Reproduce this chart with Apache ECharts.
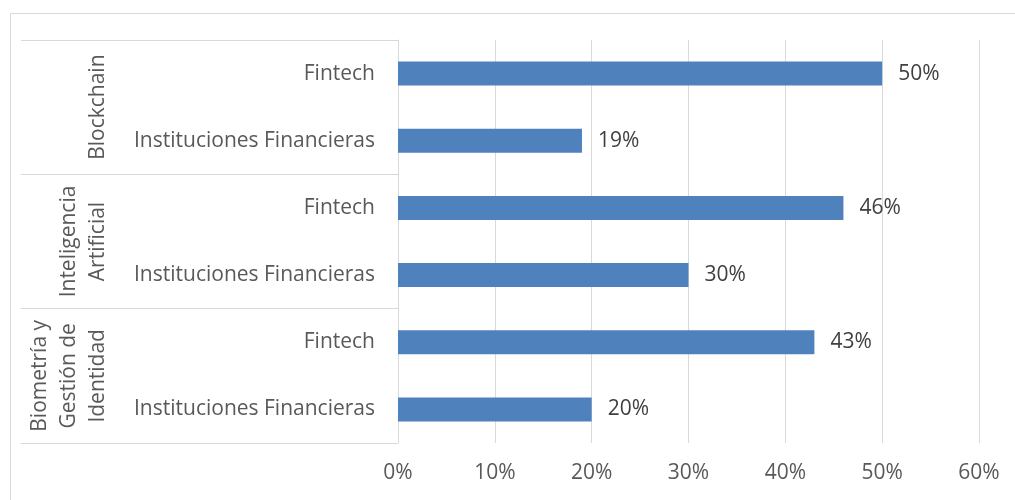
<!DOCTYPE html>
<html>
<head>
<meta charset="utf-8">
<script src="https://cdn.jsdelivr.net/npm/echarts@6/dist/echarts.min.js"></script>
<style>
  html, body { margin: 0; padding: 0; background: #fff; }
  #chart { width: 1015px; height: 500px; }
</style>
</head>
<body>
<div id="chart"></div>
<script>
// Technology adoption by type of entity
const groups = ['Blockchain', 'Inteligencia\nArtificial', 'Biometría y\nGestión de\nIdentidad'];
const entities = ['Fintech', 'Instituciones Financieras',
                  'Fintech', 'Instituciones Financieras',
                  'Fintech', 'Instituciones Financieras'];
const shares = [50, 19, 46, 30, 43, 20];
const tickValues = [0, 10, 20, 30, 40, 50, 60];

const FONT = '"Open Sans", sans-serif';
const GRID = '#D9D9D9';
const TEXT = '#595959';
const SIZE = 21;

const chart = echarts.init(document.getElementById('chart'));
chart.setOption({
  animation: false,
  backgroundColor: '#fff',
  textStyle: { fontFamily: FONT },
  graphic: [{
    type: 'rect',
    left: 8, top: 11,
    shape: { width: 1020, height: 500 },
    style: { fill: 'none', stroke: GRID, lineWidth: 1 },
    silent: true
  }],
  grid: { left: 398, right: 36, top: 40, bottom: 57, containLabel: false },
  xAxis: {
    type: 'value',
    min: tickValues[0],
    max: tickValues[tickValues.length - 1],
    interval: tickValues[1] - tickValues[0],
    axisLine: { show: false },
    axisTick: { show: false },
    splitLine: { lineStyle: { color: GRID, width: 1 } },
    axisLabel: {
      formatter: v => v + '%',
      color: TEXT, fontSize: SIZE, fontFamily: FONT, margin: 20
    }
  },
  yAxis: [{
    type: 'category',
    data: entities,
    inverse: true,
    position: 'left',
    axisLine: { show: true, lineStyle: { color: GRID } },
    axisTick: { show: false },
    axisLabel: { interval: 0, color: TEXT, fontSize: SIZE, fontFamily: FONT, margin: 23 }
  }, {
    type: 'category',
    data: groups,
    inverse: true,
    position: 'left',
    axisLine: { show: false },
    axisTick: { show: true, interval: 0, length: 377, lineStyle: { color: GRID, width: 1 } },
    axisLabel: {
      interval: 0, hideOverlap: false,
      rotate: 90, color: TEXT, fontSize: SIZE, fontFamily: FONT,
      margin: 285, lineHeight: 29
    },
    splitLine: { show: false }
  }],
  series: [{
    type: 'bar',
    yAxisIndex: 0,
    data: shares,
    barWidth: 24,
    itemStyle: { color: '#4F81BD' },
    label: {
      show: true, position: 'right', distance: 16,
      formatter: p => p.value + '%',
      color: '#404040', fontSize: SIZE, fontFamily: FONT
    }
  }]
});
</script>
</body>
</html>
